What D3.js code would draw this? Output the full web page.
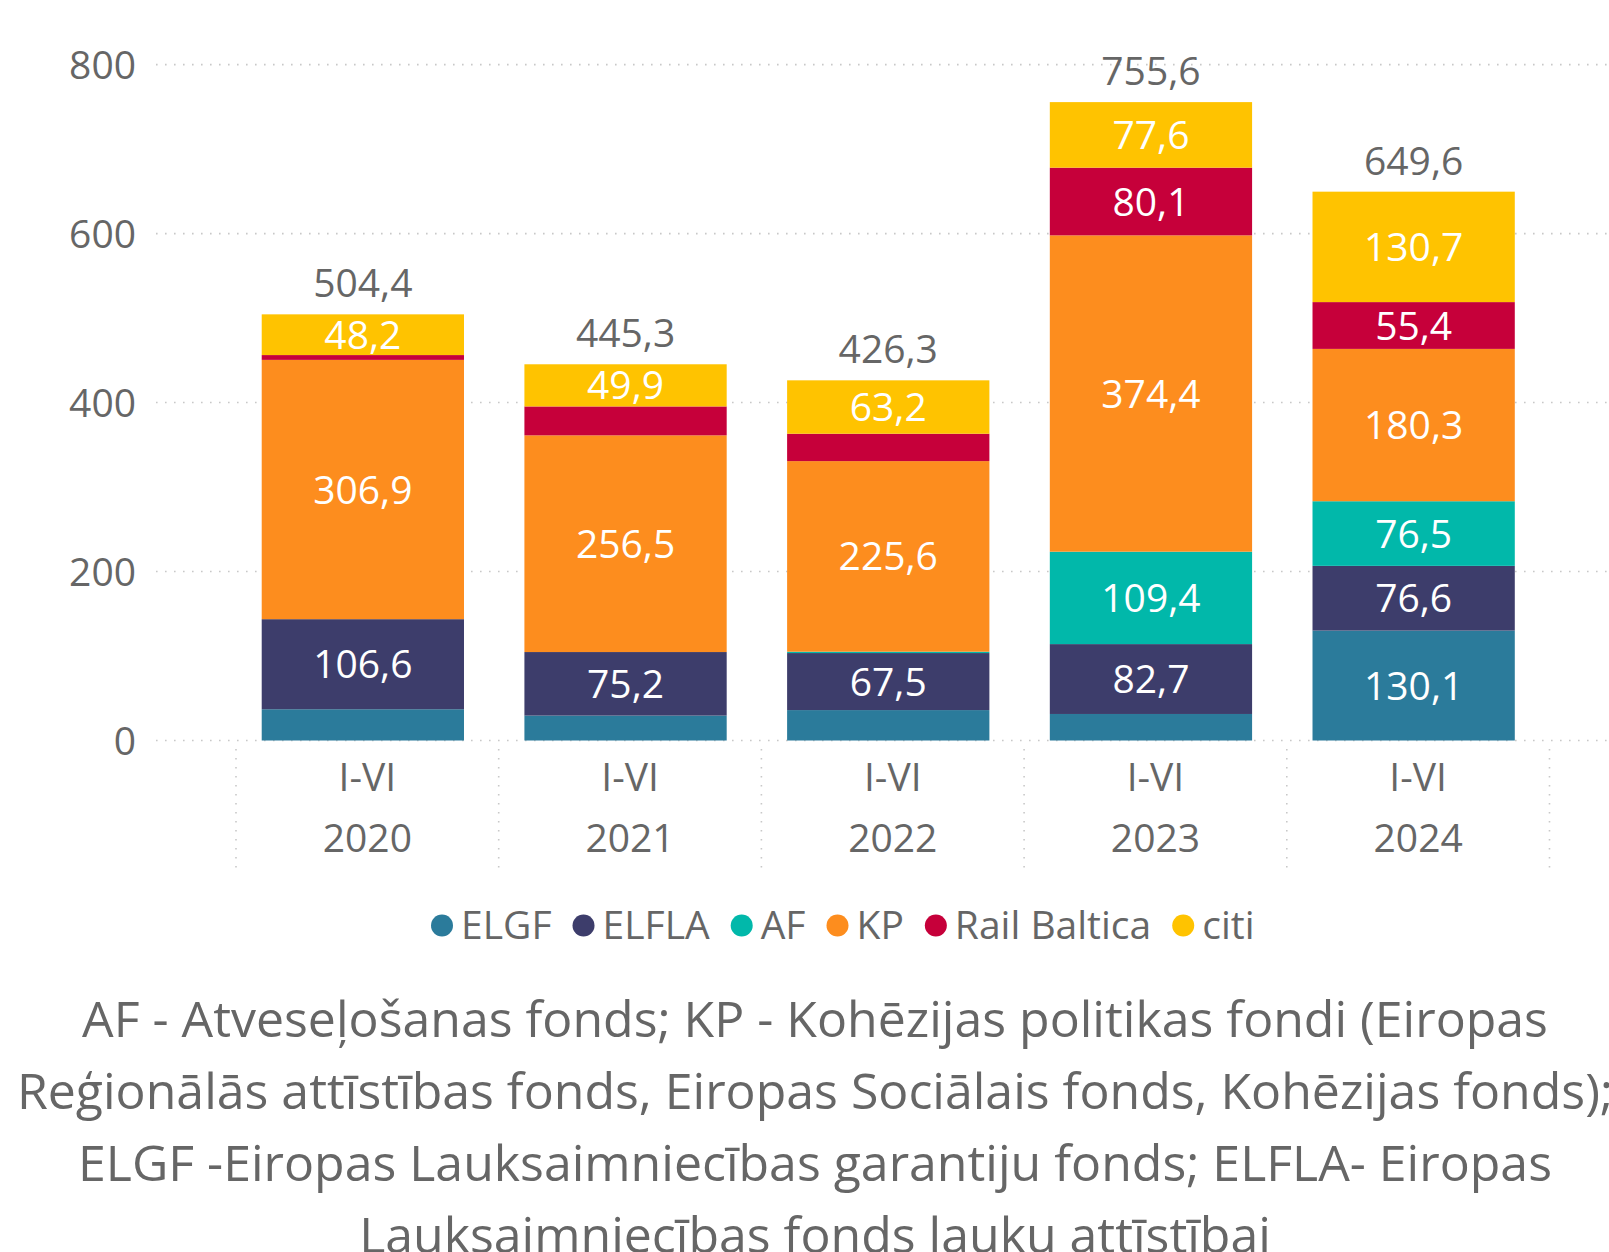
<!DOCTYPE html>
<html><head><meta charset="utf-8">
<script src="https://cdn.jsdelivr.net/npm/d3@7"></script>
<style>
html,body{margin:0;padding:0;background:#fff;overflow:hidden;}
svg{display:block;font-family:"Open Sans","Noto Sans",sans-serif;}
</style></head>
<body><svg id="c" width="1609" height="1252"></svg>
<script>
const categories = ["2020","2021","2022","2023","2024"];
const periodLabels = ["I-VI","I-VI","I-VI","I-VI","I-VI"];
const yearLabels = ["2020","2021","2022","2023","2024"];
const seriesNames = ["ELGF","ELFLA","AF","KP","Rail Baltica","citi"];
const seriesColors = ["#2B7B9B","#3D3D6B","#01B8AA","#FD8D1E","#C6003A","#FFC300"];
const ELGF  = [37.0, 29.5, 36.0, 31.4, 130.1];
const ELFLA = [106.6, 75.2, 67.5, 82.7, 76.6];
const AF    = [0, 0, 1.6, 109.4, 76.5];
const KP    = [306.9, 256.5, 225.6, 374.4, 180.3];
const RB    = [5.7, 34.2, 32.4, 80.1, 55.4];
const citi  = [48.2, 49.9, 63.2, 77.6, 130.7];
const totals = [504.4, 445.3, 426.3, 755.6, 649.6];
const yTicks = [0, 200, 400, 600, 800];
const noteLines = [
  "AF - Atveseļošanas fonds; KP - Kohēzijas politikas fondi (Eiropas",
  "Reģionālās attīstības fonds, Eiropas Sociālais fonds, Kohēzijas fonds);",
  "ELGF -Eiropas Lauksaimniecības garantiju fonds; ELFLA- Eiropas",
  "Lauksaimniecības fonds lauku attīstībai"
];

const seriesValues = [ELGF, ELFLA, AF, KP, RB, citi];
const rows = categories.map((c, i) => {
  const r = {cat: c};
  seriesNames.forEach((s, k) => r[s] = seriesValues[k][i]);
  return r;
});

const svg = d3.select("#c");
const grey = "#666666";
const fs = 39;

const y = d3.scaleLinear().domain([0, 800]).range([740.5, 64.6]);
const xSep = d3.scaleBand().domain(categories).range([236, 1549.5]);
const x = d3.scaleBand().domain(categories).range([231.5, 1545]).paddingInner(0.23).paddingOuter(0.115);

// gridlines
svg.append("g").selectAll("line").data(yTicks).join("line")
  .attr("x1", 156).attr("x2", 1609)
  .attr("y1", d => y(d)).attr("y2", d => y(d))
  .attr("stroke", "#c8c8c8").attr("stroke-width", 1.6).attr("stroke-dasharray", "1.6,7.4");

// y axis labels
const yAxis = d3.axisLeft(y).tickValues(yTicks).tickSize(0).tickPadding(0).tickFormat(d3.format("d"));
const ya = svg.append("g").attr("transform", "translate(136,0)").call(yAxis);
ya.select(".domain").remove();
ya.selectAll("text").attr("font-size", fs).attr("fill", grey).attr("font-family", "Open Sans").attr("dy", "0.35em");

// category separators
const seps = categories.map(c => xSep(c)).concat([xSep.range()[1]]);
svg.append("g").selectAll("line").data(seps).join("line")
  .attr("x1", d => d).attr("x2", d => d).attr("y1", 749).attr("y2", 872)
  .attr("stroke", "#c8c8c8").attr("stroke-width", 1.6).attr("stroke-dasharray", "1.6,7.4");

// category labels
const cl = svg.append("g").attr("font-size", fs).attr("fill", grey).attr("text-anchor", "middle");
cl.selectAll("text.p").data(categories).join("text").attr("class", "p")
  .attr("x", d => xSep(d) + xSep.bandwidth() / 2).attr("y", 791)
  .text((d, i) => periodLabels[i]);
cl.selectAll("text.yr").data(categories).join("text").attr("class", "yr")
  .attr("x", d => xSep(d) + xSep.bandwidth() / 2).attr("y", 852)
  .text((d, i) => yearLabels[i]);

// stacked bars
const stack = d3.stack().keys(seriesNames)(rows);
const fmt = v => d3.format(".1f")(v).replace(".", ",");
const layers = svg.append("g").selectAll("g").data(stack).join("g")
  .attr("fill", (d, k) => seriesColors[k]);
layers.selectAll("rect").data(d => d).join("rect")
  .attr("x", d => x(d.data.cat)).attr("width", x.bandwidth())
  .attr("y", d => y(d[1])).attr("height", d => Math.max(0, y(d[0]) - y(d[1])));

// segment labels
const lab = svg.append("g").attr("font-size", fs).attr("fill", "#fff").attr("text-anchor", "middle");
stack.forEach(layer => {
  layer.forEach(d => {
    const v = d[1] - d[0];
    if (y(d[0]) - y(d[1]) >= 40) {
      lab.append("text")
        .attr("x", x(d.data.cat) + x.bandwidth() / 2)
        .attr("y", (y(d[0]) + y(d[1])) / 2).attr("dy", "0.36em")
        .text(fmt(v));
    }
  });
});

// totals
svg.append("g").attr("font-size", fs).attr("fill", grey).attr("text-anchor", "middle")
  .selectAll("text").data(categories).join("text")
  .attr("x", d => x(d) + x.bandwidth() / 2)
  .attr("y", (d, i) => y(totals[i]) - 17)
  .text((d, i) => fmt(totals[i]));

// legend
const lg = svg.append("g").attr("font-size", fs).attr("fill", grey);
let lx = 442;
const ly = 925.5;
seriesNames.forEach((s, k) => {
  lg.append("circle").attr("cx", lx).attr("cy", ly).attr("r", 11).attr("fill", seriesColors[k]);
  const t = lg.append("text").attr("x", lx + 19).attr("y", ly).attr("dy", "0.35em").text(s);
  const w = t.node().getComputedTextLength();
  lx = lx + 19 + w + 32;
});

// note
svg.append("g").attr("font-size", 50).attr("fill", grey).attr("text-anchor", "middle")
  .selectAll("text").data(noteLines).join("text")
  .attr("x", 815).attr("y", (d, i) => 1019 + i * 72).attr("dy", "0.35em")
  .text(d => d);
</script></body></html>
